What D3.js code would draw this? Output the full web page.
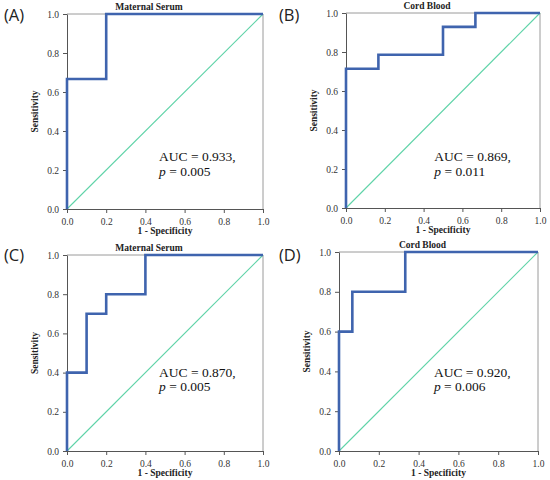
<!DOCTYPE html>
<html>
<head>
<meta charset="utf-8">
<script src="https://cdn.jsdelivr.net/npm/d3@7"></script>
<style>
  body { margin: 0; background: #fff; }
  svg { display: block; }
</style>
</head>
<body>
<svg id="chart" width="550" height="480"></svg>
<script>
// ROC curve points (1 - specificity, sensitivity)
const fprA = [0, 0, 0.2, 0.2, 1];
const tprA = [0, 0.667, 0.667, 1, 1];
const fprB = [0, 0, 0.167, 0.167, 0.5, 0.5, 0.667, 0.667, 1];
const tprB = [0, 0.714, 0.714, 0.786, 0.786, 0.929, 0.929, 1, 1];
const fprC = [0, 0, 0.1, 0.1, 0.2, 0.2, 0.4, 0.4, 1];
const tprC = [0, 0.4, 0.4, 0.7, 0.7, 0.8, 0.8, 1, 1];
const fprD = [0, 0, 0.067, 0.067, 0.333, 0.333, 1];
const tprD = [0, 0.6, 0.6, 0.8, 0.8, 1, 1];

const letters = ["(A)", "(B)", "(C)", "(D)"];
const titles = ["Maternal Serum", "Cord Blood", "Maternal Serum", "Cord Blood"];
const aucLabels = ["AUC = 0.933,", "AUC = 0.869,", "AUC = 0.870,", "AUC = 0.920,"];
const pLabels = ["= 0.005", "= 0.011", "= 0.005", "= 0.006"];
const tickValues = [0, 0.2, 0.4, 0.6, 0.8, 1.0];

// where each plot area sits in the figure, and where the AUC note goes (data units)
const layout = [
  {left: 67, right: 263, top: 14, bottom: 209, ox: 0, oy: 0, auc: [0.47, 0.245]},
  {left: 346, right: 540, top: 13, bottom: 208, ox: 275, oy: 0, auc: [0.455, 0.24]},
  {left: 67, right: 263, top: 255, bottom: 451, ox: 0, oy: 240, auc: [0.47, 0.38]},
  {left: 339, right: 538, top: 252, bottom: 451, ox: 275, oy: 240, auc: [0.477, 0.374]}
];

const series = [
  d3.zip(fprA, tprA), d3.zip(fprB, tprB), d3.zip(fprC, tprC), d3.zip(fprD, tprD)
];

const svg = d3.select("#chart");
const serif = "'Liberation Serif', 'Times New Roman', serif";

layout.forEach((L, i) => {
  const x = d3.scaleLinear().domain([0, 1]).range([L.left, L.right]);
  const y = d3.scaleLinear().domain([0, 1]).range([L.bottom, L.top]);
  const g = svg.append("g");

  // panel letter
  g.append("text")
    .attr("x", L.ox + 4)
    .attr("y", L.oy + 21)
    .attr("font-family", "'Open Sans', 'Noto Sans', sans-serif")
    .attr("font-size", 16.5)
    .attr("fill", "#222")
    .text(letters[i]);

  // top and right frame
  g.append("path")
    .attr("d", `M${x(0)},${y(1)}H${x(1)}V${y(0)}`)
    .attr("fill", "none")
    .attr("stroke", "#9a9a9a")
    .attr("stroke-width", 1);

  // diagonal reference line
  g.append("line")
    .attr("x1", x(0)).attr("y1", y(0))
    .attr("x2", x(1)).attr("y2", y(1))
    .attr("stroke", "#5fd3a8")
    .attr("stroke-width", 1.1);

  const xAxis = g.append("g")
    .attr("transform", `translate(0,${L.bottom})`)
    .call(d3.axisBottom(x).tickValues(tickValues).tickFormat(d3.format(".1f")).tickSize(4).tickSizeOuter(0));
  const yAxis = g.append("g")
    .attr("transform", `translate(${L.left},0)`)
    .call(d3.axisLeft(y).tickValues(tickValues).tickFormat(d3.format(".1f")).tickSize(4).tickSizeOuter(0));

  [xAxis, yAxis].forEach(ax => {
    ax.attr("font-family", serif).attr("font-size", 9.5);
    ax.select(".domain").attr("stroke", "#555");
    ax.selectAll(".tick line").attr("stroke", "#555");
    ax.selectAll(".tick text").attr("fill", "#333");
  });
  xAxis.selectAll(".tick text").attr("dy", "0.95em");
  yAxis.selectAll(".tick text").attr("dx", "-0.1em");

  // ROC curve
  g.append("path")
    .datum(series[i])
    .attr("fill", "none")
    .attr("stroke", "#3f64ae")
    .attr("stroke-width", 2.6)
    .attr("stroke-linejoin", "miter")
    .attr("d", d3.line().x(d => x(d[0])).y(d => y(d[1])));

  // title
  g.append("text")
    .attr("x", (L.left + L.right) / 2 - 16)
    .attr("y", L.top - 4)
    .attr("text-anchor", "middle")
    .attr("font-family", serif)
    .attr("font-weight", "bold")
    .attr("font-size", 9.5)
    .attr("fill", "#222")
    .text(titles[i]);

  // axis labels
  g.append("text")
    .attr("x", (L.left + L.right) / 2)
    .attr("y", L.bottom + 25)
    .attr("text-anchor", "middle")
    .attr("font-family", serif)
    .attr("font-weight", "bold")
    .attr("font-size", 9.5)
    .attr("fill", "#222")
    .text("1 - Specificity");

  g.append("text")
    .attr("transform", `translate(${L.left - 29},${(L.top + L.bottom) / 2}) rotate(-90)`)
    .attr("text-anchor", "middle")
    .attr("font-family", serif)
    .attr("font-weight", "bold")
    .attr("font-size", 9.5)
    .attr("fill", "#222")
    .text("Sensitivity");

  // AUC annotation
  const ax0 = x(L.auc[0]), ay0 = y(L.auc[1]);
  g.append("text")
    .attr("x", ax0).attr("y", ay0)
    .attr("font-family", serif).attr("font-size", 13.5).attr("fill", "#111")
    .text(aucLabels[i]);
  const pt = g.append("text")
    .attr("x", ax0).attr("y", ay0 + 14.5)
    .attr("font-family", serif).attr("font-size", 13.5).attr("fill", "#111");
  pt.append("tspan").attr("font-style", "italic").text("p");
  pt.append("tspan").text(" " + pLabels[i]);
});
</script>
</body>
</html>
